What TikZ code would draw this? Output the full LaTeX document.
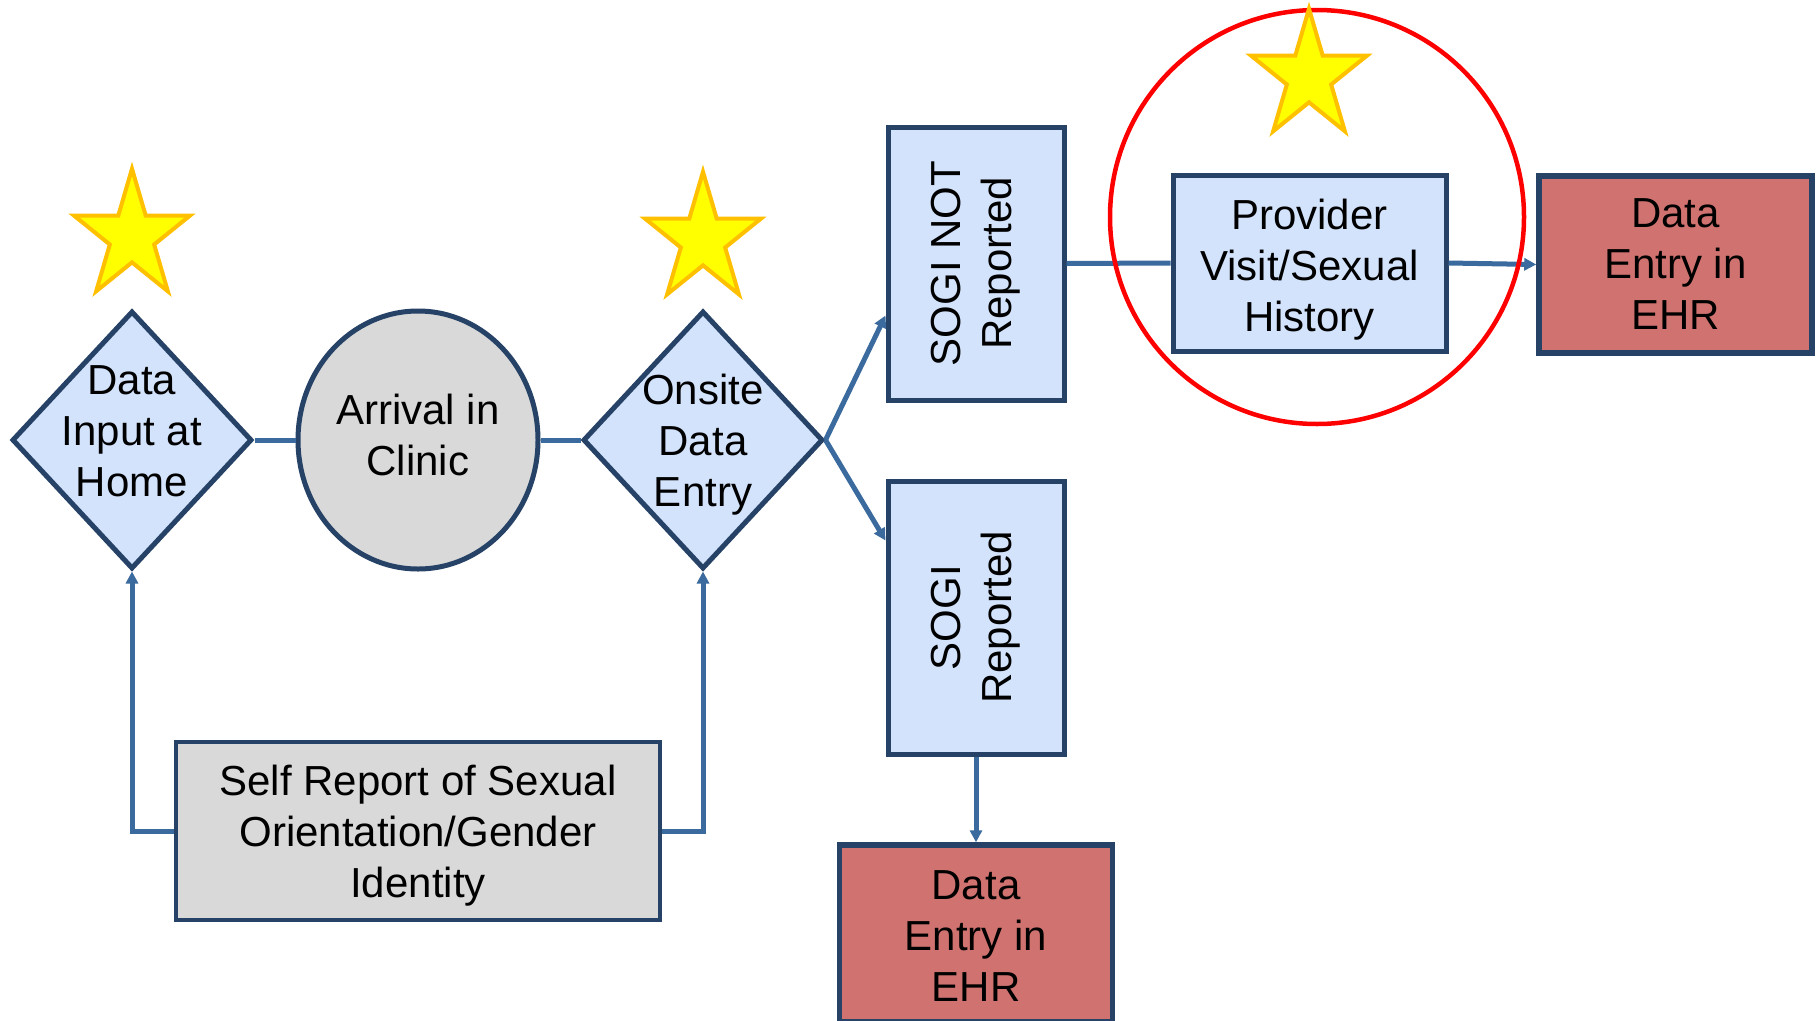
\documentclass[tikz,border=0pt]{standalone}
\usepackage{fontspec}
\setmainfont{Liberation Sans}
\usetikzlibrary{shapes.geometric,arrows.meta}
\definecolor{bfill}{RGB}{211,227,252}
\definecolor{bdraw}{RGB}{38,66,102}
\definecolor{conncol}{RGB}{58,106,158}
\definecolor{gfill}{RGB}{217,217,217}
\definecolor{rfill}{RGB}{208,115,112}
\definecolor{starfill}{RGB}{255,255,0}
\definecolor{stardraw}{RGB}{255,192,0}
\begin{document}
\begin{tikzpicture}[x=1pt,y=-1pt,
  txt/.style={font=\fontsize{42}{51}\selectfont, align=center, inner sep=0pt},
  base/.style={txt, draw=bdraw, line width=5pt},
  dia/.style={base, diamond, fill=bfill, minimum width=240pt, minimum height=258pt},
  vbox/.style={base, rectangle, fill=bfill, minimum width=176pt, minimum height=273pt},
  hbox/.style={base, rectangle, fill=bfill, minimum width=273pt, minimum height=176pt},
  ehr/.style={base, rectangle, fill=rfill, minimum width=273pt, minimum height=177pt, line width=5.5pt},
  link/.style={draw=conncol, line width=5pt},
  arr/.style={link, -{Triangle[length=12pt,width=12pt]}},
  mystar/.style={star, star points=5, star point ratio=2.618, fill=starfill, draw=stardraw, line width=4pt, minimum size=122pt, inner sep=0pt, yscale=1.11}
]
\fill[white] (0,0) rectangle (1820,1020);
\useasboundingbox (0,0) rectangle (1820,1020);

% stars
\node[mystar] (s1) at (132,236.5) {};
\node[mystar] (s2) at (703,239.5) {};

% main nodes
\node[dia, label={[txt, yshift=9pt]center:Data\\Input at\\Home}] (d1) at (132,440) {};
\node[base, ellipse, fill=gfill, minimum width=240pt, minimum height=258pt,
      label={[txt, yshift=5pt]center:Arrival in\\Clinic}] (arr1) at (418,440) {};
\node[dia, label={[txt, yshift=-5pt]center:Onsite\\Data\\Entry}] (d2) at (703,440) {};

\node[vbox, label={[txt, rotate=90]center:SOGI NOT\\Reported}] (sn) at (976,263.5) {};
\node[vbox, label={[txt, rotate=90]center:SOGI\\Reported}] (sr) at (976,617.5) {};

\node[hbox, label={[txt, yshift=-7pt]center:Provider\\Visit/Sexual\\History}] (prov) at (1309.5,263) {};
\node[ehr] (ehr1) at (1675.5,264.5) {Data\\Entry in\\EHR};
\node[ehr, label={[txt, yshift=-3pt]center:Data\\Entry in\\EHR}] (ehr2) at (976,933.5) {};

\node[base, rectangle, fill=gfill, line width=3.5pt, minimum width=484pt, minimum height=178pt,
      label={[txt, yshift=-5pt]center:Self Report of Sexual\\Orientation/Gender\\Identity}] (self) at (418,831) {};

% connectors
\draw[link] (d1.east) -- (arr1.west);
\draw[link] (arr1.east) -- (d2.west);
\draw[arr] (d2.east) -- ([yshift=-52pt]sn.west);
\draw[arr] (d2.east) -- ([yshift=77pt]sr.west);
\draw[link] (sn.east) -- (prov.west);
\draw[arr] (prov.east) -- (ehr1.west);
\draw[arr] (sr.south) -- (ehr2.north);
\draw[arr] (self.west) -| (d1.south);
\draw[arr] (self.east) -| (d2.south);

% highlight circle and star
\node[circle, draw=red, line width=4.5pt, minimum size=414pt, inner sep=0pt] (hl) at (1317,217) {};
\node[mystar] (s3) at (1309,76.5) {};
\end{tikzpicture}
\end{document}
